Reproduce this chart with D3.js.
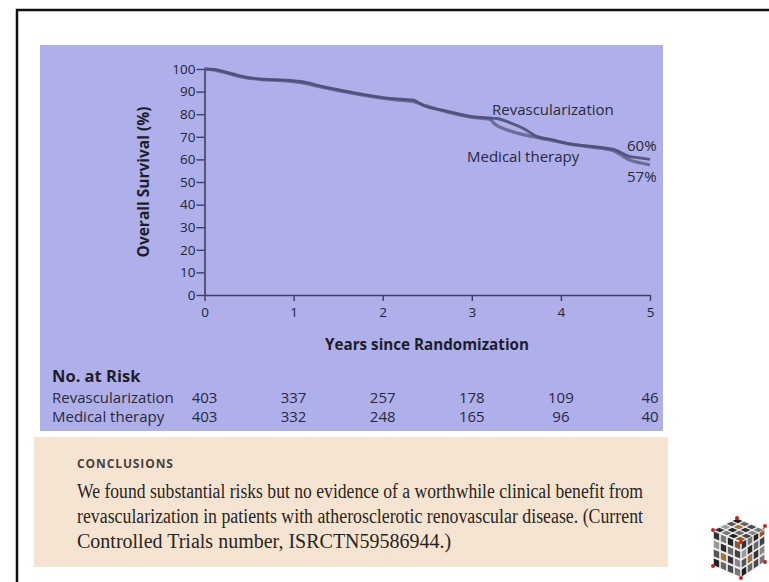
<!DOCTYPE html>
<html>
<head>
<meta charset="utf-8">
<script src="https://cdn.jsdelivr.net/npm/d3@7"></script>
<style>
  html, body { margin: 0; padding: 0; background: #fff; }
  svg { display: block; }
</style>
</head>
<body>
<svg width="769" height="582"></svg>
<script>
// survival curves (years, % alive)
var revascYears = [0, 0.1, 0.2, 0.4, 0.62, 0.92, 1.1, 1.33, 1.52, 1.78, 2.08, 2.34, 2.45, 2.72, 3.01, 3.28, 3.45, 3.57, 3.73, 3.91, 4.07, 4.37, 4.59, 4.78, 4.9, 5.0]
var revascSurv = [100, 99.8, 99.1, 97, 95.6, 95.1, 94.4, 92.2, 90.7, 88.8, 87, 86.3, 84, 81.4, 78.9, 78.1, 75.9, 73.9, 70.2, 68.6, 67.1, 65.6, 64.4, 61.2, 60.6, 60]
var medYears = [0, 0.1, 0.2, 0.4, 0.62, 0.92, 1.1, 1.33, 1.52, 1.78, 2.08, 2.34, 2.45, 2.72, 3.01, 3.2, 3.26, 3.4, 3.69, 3.91, 4.07, 4.37, 4.59, 4.78, 4.9, 5.0]
var medSurv = [100, 99.6, 98.7, 96.6, 95.4, 94.7, 93.8, 91.8, 90.3, 88.4, 86.6, 85.6, 84.2, 81, 78.6, 77.8, 75.6, 73, 70, 68.3, 67, 65.3, 63.8, 59.6, 58.4, 57.5]

var yTicks = [0, 10, 20, 30, 40, 50, 60, 70, 80, 90, 100]
var xTicks = [0, 1, 2, 3, 4, 5]

// number at risk table
var riskYears = [0, 1, 2, 3, 4, 5]
var revascRisk = [403, 337, 257, 178, 109, 46]
var medRisk = [403, 332, 248, 165, 96, 40]

var conclusionLines = [
  'We found substantial risks but no evidence of a worthwhile clinical benefit from',
  'revascularization in patients with atherosclerotic renovascular disease. (Current',
  'Controlled Trials number, ISRCTN59586944.)'
]

var svg = d3.select('svg')
var sans = '"Open Sans", "DejaVu Sans", sans-serif'

// frame
svg.append('path')
  .attr('d', 'M17,582 V10 H769')
  .style('fill', 'none')
  .style('stroke', '#111')
  .style('stroke-width', 2.5)

// panels
svg.append('rect')
  .attr('x', 40).attr('y', 45).attr('width', 623).attr('height', 386)
  .style('fill', '#afafe9')
svg.append('rect')
  .attr('x', 34).attr('y', 437).attr('width', 634).attr('height', 130)
  .style('fill', '#f5e4d1')

var x = d3.scaleLinear().domain([0, 5]).range([204.5, 650])
var y = d3.scaleLinear().domain([0, 100]).range([295, 69])

var axisColor = '#3f3f60'

var gy = svg.append('g')
  .attr('transform', `translate(${x(0)},0)`)
  .call(d3.axisLeft(y).tickValues(yTicks).tickSize(8).tickPadding(1).tickSizeOuter(0))
var gx = svg.append('g')
  .attr('transform', `translate(0,${y(0)})`)
  .call(d3.axisBottom(x).tickValues(xTicks).tickFormat(d3.format('d')).tickSize(6).tickPadding(6).tickSizeOuter(0))

;[gx, gy].forEach(function (g) {
  g.select('.domain').style('stroke', axisColor).style('stroke-width', 1.6)
  g.selectAll('.tick line').style('stroke', axisColor).style('stroke-width', 1.4)
  g.selectAll('.tick text')
    .style('font-family', sans)
    .style('font-size', '13.5px')
    .style('fill', '#24243a')
})

// curves
var line = d3.line()
  .x(function (d) { return x(d[0]) })
  .y(function (d) { return y(d[1]) })
  .curve(d3.curveMonotoneX)

var medData = medYears.map(function (t, i) { return [t, medSurv[i]] })
var revData = revascYears.map(function (t, i) { return [t, revascSurv[i]] })

svg.append('path')
  .datum(medData)
  .attr('d', line)
  .style('fill', 'none')
  .style('stroke', '#6c6c98')
  .style('stroke-width', 3.2)
svg.append('path')
  .datum(revData)
  .attr('d', line)
  .style('fill', 'none')
  .style('stroke', '#4e4e78')
  .style('stroke-width', 2.8)
  .style('opacity', 0.9)

function label (txt, px, py, opts) {
  opts = opts || {}
  return svg.append('text')
    .attr('x', px).attr('y', py)
    .style('font-family', sans)
    .style('font-size', opts.size || '15px')
    .style('font-weight', opts.weight || 'normal')
    .style('fill', opts.fill || '#2a2a3c')
    .style('text-anchor', opts.anchor || 'start')
    .text(txt)
}

label('Revascularization', 492, 115)
label('Medical therapy', 467, 162)
label('60%', 627, 151)
label('57%', 627, 182)

// axis titles
svg.append('text')
  .attr('transform', 'translate(149,182) rotate(-90)')
  .style('font-family', sans)
  .style('font-size', '15.5px')
  .style('font-weight', 'bold')
  .style('fill', '#1e1e2a')
  .style('text-anchor', 'middle')
  .text('Overall Survival (%)')
label('Years since Randomization', 427, 350, { size: '15.2px', weight: 'bold', anchor: 'middle', fill: '#1e1e2a' })

// number at risk
label('No. at Risk', 52, 382, { size: '16.5px', weight: 'bold', fill: '#1e1e2a' })
label('Revascularization', 52, 403)
label('Medical therapy', 52, 422)

svg.append('g').selectAll('text')
  .data(riskYears)
  .join('text')
  .attr('x', function (d) { return x(d) })
  .attr('y', 403)
  .style('font-family', sans)
  .style('font-size', '15px')
  .style('fill', '#2a2a3c')
  .style('text-anchor', 'middle')
  .text(function (d, i) { return revascRisk[i] })
svg.append('g').selectAll('text')
  .data(riskYears)
  .join('text')
  .attr('x', function (d) { return x(d) })
  .attr('y', 422)
  .style('font-family', sans)
  .style('font-size', '15px')
  .style('fill', '#2a2a3c')
  .style('text-anchor', 'middle')
  .text(function (d, i) { return medRisk[i] })

// conclusions
svg.append('text')
  .attr('x', 77).attr('y', 468)
  .style('font-family', sans)
  .style('font-size', '12px')
  .style('font-weight', 'bold')
  .style('letter-spacing', '0.9px')
  .style('fill', '#4a4040')
  .text('CONCLUSIONS')

svg.append('g').selectAll('text')
  .data(conclusionLines)
  .join('text')
  .attr('x', 77)
  .attr('y', function (d, i) { return 498 + i * 25 })
  .attr('textLength', function (d, i) { return i < 2 ? 566 : null })
  .attr('lengthAdjust', 'spacingAndGlyphs')
  .style('font-family', '"Liberation Serif", "DejaVu Serif", serif')
  .style('font-size', '20px')
  .style('fill', '#2b2522')
  .text(function (d) { return d })

// little decorative cube (bottom right)
var cubeCells = [
  '#333', '#777', '#222', '#8a5a30',
  '#999', '#2a2a2a', '#666', '#444',
  '#555', '#a07040', '#333', '#888',
  '#222', '#666', '#4a4a4a', '#777'
]
var cube = svg.append('g').attr('transform', 'translate(713,518)')
function face (ox, oy, ux, uy, vx, vy) {
  cube.append('path')
    .attr('d', `M${ox},${oy} l${ux * 4},${uy * 4} l${vx * 4},${vy * 4} l${-ux * 4},${-uy * 4} Z`)
    .style('fill', '#eee')
  cubeCells.forEach(function (c, k) {
    var i = k % 4
    var j = Math.floor(k / 4)
    var px = ox + ux * i + vx * j
    var py = oy + uy * i + vy * j
    cube.append('path')
      .attr('d', `M${px + (ux + vx) * 0.12},${py + (uy + vy) * 0.12} l${ux * 0.76},${uy * 0.76} l${vx * 0.76},${vy * 0.76} l${-ux * 0.76},${-uy * 0.76} Z`)
      .style('fill', c)
  })
}
face(0, 12, 7, 3, 0, 9)      // left face
face(28, 24, 6, -4, 0, 9)    // right face
face(0, 12, 7, 3, 6, -3)     // top face
;[[0, 12], [28, 24], [52, 8], [24, 0], [0, 48], [28, 60], [52, 44]].forEach(function (p) {
  cube.append('circle').attr('cx', p[0]).attr('cy', p[1]).attr('r', 2).style('fill', '#d42020')
})
</script>
</body>
</html>
